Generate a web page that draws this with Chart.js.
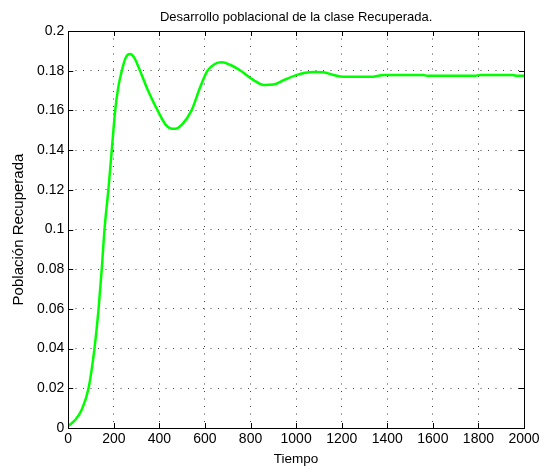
<!DOCTYPE html>
<html>
<head>
<meta charset="utf-8">
<script src="https://cdn.jsdelivr.net/npm/chart.js@4/dist/chart.umd.min.js"></script>
<style>
  html, body { margin: 0; padding: 0; background: #fff; }
  #wrap { width: 557px; height: 472px; }
</style>
</head>
<body>
<div id="wrap"><canvas id="chart" width="557" height="472"></canvas></div>
<script>
// datos
const tiempo = [0, 30, 60, 89, 115, 133, 147, 159, 176, 191, 206, 220, 235, 252, 271, 290, 315, 350, 392, 430, 465, 500, 541, 580, 611, 645, 674, 710, 757, 810, 859, 900, 950, 1000, 1040, 1077, 1120, 1160, 1208, 1326, 1385, 1558, 1575, 1786, 1807, 1952, 1970, 2000];
const recuperados = [0.001, 0.004, 0.0095, 0.02, 0.04, 0.06, 0.08, 0.1, 0.12, 0.14, 0.16, 0.172, 0.18, 0.1865, 0.1884, 0.1865, 0.18, 0.17, 0.16, 0.1525, 0.1507, 0.153, 0.16, 0.172, 0.18, 0.1835, 0.1842, 0.183, 0.18, 0.1755, 0.1728, 0.173, 0.1755, 0.1778, 0.179, 0.1794, 0.1792, 0.178, 0.1769, 0.1769, 0.1778, 0.1778, 0.1775, 0.1775, 0.1778, 0.1778, 0.1774, 0.1774];
const xTicks = [0, 200, 400, 600, 800, 1000, 1200, 1400, 1600, 1800, 2000];
const yTicks = [0, 0.02, 0.04, 0.06, 0.08, 0.1, 0.12, 0.14, 0.16, 0.18, 0.2];
const titulo = "Desarrollo poblacional de la clase Recuperada.";

const puntos = tiempo.map((t, i) => ({ x: t, y: recuperados[i] }));

// marco, marcas hacia adentro (estilo MATLAB) y título centrado sobre el área
const marco = {
  id: "marco",
  afterDraw(chart) {
    const { ctx, chartArea: a, scales } = chart;
    ctx.save();
    ctx.strokeStyle = "#000";
    ctx.lineWidth = 1;
    ctx.beginPath();
    xTicks.forEach((v) => {
      const px = Math.round(scales.x.getPixelForValue(v)) + 0.5;
      ctx.moveTo(px, a.bottom); ctx.lineTo(px, a.bottom - 5);
      ctx.moveTo(px, a.top); ctx.lineTo(px, a.top + 5);
    });
    yTicks.forEach((v) => {
      const py = Math.round(scales.y.getPixelForValue(v)) + 0.5;
      ctx.moveTo(a.left, py); ctx.lineTo(a.left + 5, py);
      ctx.moveTo(a.right, py); ctx.lineTo(a.right - 5, py);
    });
    ctx.stroke();
    ctx.strokeRect(Math.round(a.left) + 0.5, Math.round(a.top) + 0.5,
      Math.round(a.right - a.left), Math.round(a.bottom - a.top));

    ctx.fillStyle = "#000";
    ctx.font = "13px 'Liberation Sans', Arial, sans-serif";
    ctx.textAlign = "center";
    ctx.textBaseline = "bottom";
    ctx.fillText(titulo, (a.left + a.right) / 2, a.top - 7);
    ctx.restore();
  },
};

Chart.defaults.font.family = "'Liberation Sans', Arial, sans-serif";
Chart.defaults.color = "#000";

new Chart(document.getElementById("chart").getContext("2d"), {
  type: "line",
  data: {
    datasets: [{
      data: puntos,
      borderColor: "#00ff00",
      borderWidth: 2.5,
      pointRadius: 0,
      cubicInterpolationMode: "monotone",
      fill: false,
    }],
  },
  options: {
    responsive: false,
    animation: false,
    layout: { padding: { left: 10, right: 33, top: 31, bottom: 0 } },
    plugins: {
      legend: { display: false },
      tooltip: { enabled: false },
      title: { display: false },
    },
    scales: {
      x: {
        type: "linear",
        min: 0, max: 2000,
        afterBuildTicks: (s) => { s.ticks = xTicks.map((v) => ({ value: v })); },
        ticks: { font: { size: 14 }, padding: 3, maxRotation: 0, callback: (v) => String(v) },
        grid: { color: "#444", lineWidth: 1, drawTicks: false },
        border: { display: false, dash: [1, 6.5] },
        title: { display: true, text: "Tiempo", font: { size: 13.5 }, padding: { top: 0, bottom: 5 } },
      },
      y: {
        min: 0, max: 0.2,
        afterBuildTicks: (s) => { s.ticks = yTicks.map((v) => ({ value: v })); },
        ticks: { font: { size: 14 }, padding: 4, callback: (v) => String(+v.toFixed(2)) },
        grid: { color: "#444", lineWidth: 1, drawTicks: false },
        border: { display: false, dash: [1, 6.5] },
        title: { display: true, text: "Población Recuperada", font: { size: 15 }, padding: { top: 0, bottom: 5 } },
      },
    },
  },
  plugins: [marco],
});
</script>
</body>
</html>
